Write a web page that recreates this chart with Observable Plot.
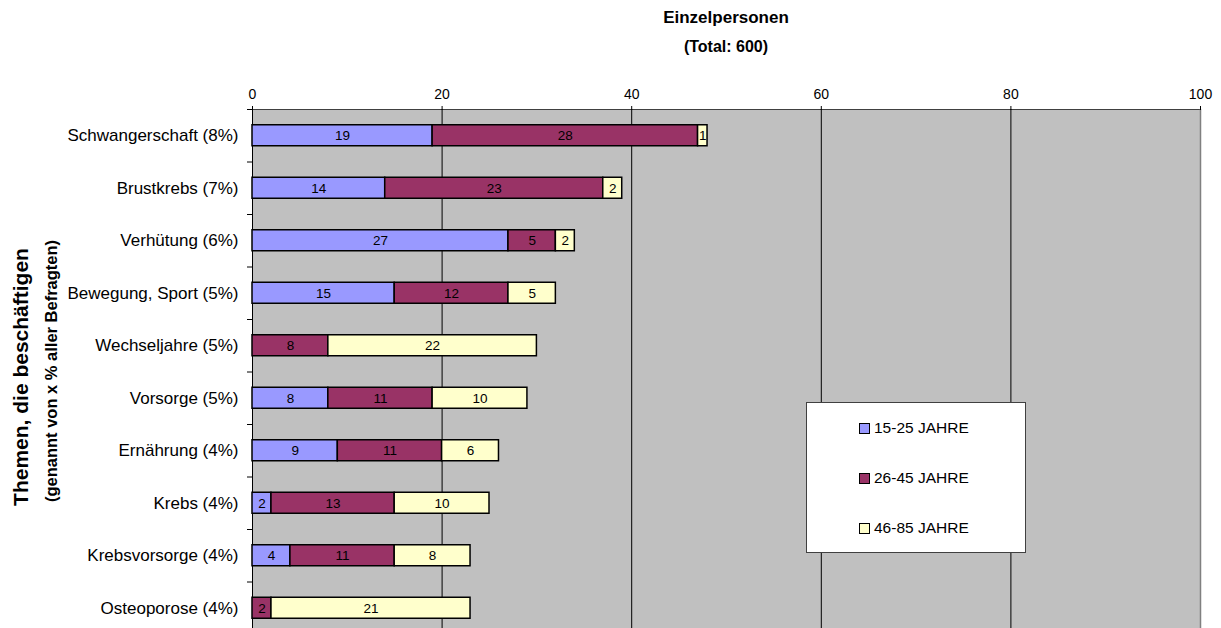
<!DOCTYPE html>
<html>
<head>
<meta charset="utf-8">
<script src="https://cdn.jsdelivr.net/npm/d3@7"></script>
<script src="https://cdn.jsdelivr.net/npm/@observablehq/plot@0.6"></script>
<style>
  html, body { margin: 0; padding: 0; background: #fff; }
  body { font-family: "Liberation Sans", Arial, sans-serif; color: #000; }
  #wrap { position: relative; width: 1221px; height: 628px; overflow: hidden; }
  .t { position: absolute; left: 526px; width: 400px; text-align: center; font-weight: bold; white-space: nowrap; }
  #t1 { top: 8px; height: 20px; line-height: 20px; font-size: 17px; }
  #t2 { top: 37px; height: 20px; line-height: 20px; font-size: 16px; }
  #chart { position: absolute; top: 80px; left: 0; }
  #legend { position: absolute; left: 806px; top: 402px; width: 218px; height: 149px; background: #fff; border: 1px solid #404040; }
  .li { position: absolute; left: 52px; height: 20px; line-height: 20px; font-size: 15.5px; white-space: nowrap; }
  .sw { display: inline-block; width: 9px; height: 9px; border: 1.5px solid #000; vertical-align: -1px; margin-right: 4px; }
</style>
</head>
<body>
<div id="wrap">
  <div class="t" id="t1"></div>
  <div class="t" id="t2"></div>
  <div id="chart"></div>
  <div id="legend"></div>
</div>
<script>
const titleText = "Einzelpersonen";
const subtitleText = "(Total: 600)";
const yTitle1 = "Themen, die beschäftigen";
const yTitle2 = "(genannt von x % aller Befragten)";

const categories = [
  "Schwangerschaft (8%)",
  "Brustkrebs (7%)",
  "Verhütung (6%)",
  "Bewegung, Sport (5%)",
  "Wechseljahre (5%)",
  "Vorsorge (5%)",
  "Ernährung (4%)",
  "Krebs (4%)",
  "Krebsvorsorge (4%)",
  "Osteoporose (4%)"
];
const groups = ["15-25 JAHRE", "26-45 JAHRE", "46-85 JAHRE"];
const groupColors = ["#9999FF", "#993366", "#FFFFCC"];
const v1525 = [19, 14, 27, 15, 0, 8, 9, 2, 4, 0];
const v2645 = [28, 23, 5, 12, 8, 11, 11, 13, 11, 2];
const v4685 = [1, 2, 2, 5, 22, 10, 6, 10, 8, 21];
const xTicks = [0, 20, 40, 60, 80, 100];

const seriesValues = [v1525, v2645, v4685];
const rows = [];
groups.forEach((g, gi) => {
  categories.forEach((c, ci) => {
    const v = seriesValues[gi][ci];
    if (v > 0) rows.push({cat: c, group: g, value: v});
  });
});

document.getElementById("t1").textContent = titleText;
document.getElementById("t2").textContent = subtitleText;

const W = 1221, H = 554, MT = 29, ML = 252, MR = 21;
const step = (H - MT) / categories.length;

const chart = Plot.plot({
  width: W,
  height: H,
  marginTop: MT,
  marginBottom: 0,
  marginLeft: ML,
  marginRight: MR,
  style: {background: "transparent", fontFamily: "'Liberation Sans', Arial, sans-serif", color: "#000", overflow: "visible"},
  x: {domain: [0, 100], axis: null},
  y: {domain: categories, paddingInner: 0.6, paddingOuter: 0.3, round: false, axis: null},
  color: {domain: groups, range: groupColors},
  marks: [
    Plot.frame({fill: "#C0C0C0", stroke: "#404040"}),
    Plot.ruleX(xTicks.slice(0, -1), {stroke: "#000", strokeWidth: 1}),
    Plot.ruleX(xTicks.slice(-1), {stroke: "#808080", strokeWidth: 1.5}),
    Plot.barX(rows, {x: "value", y: "cat", fill: "group", stroke: "#000", strokeWidth: 1.5}),
    Plot.text(rows, Plot.stackX({x: "value", y: "cat", z: "group", text: d => String(d.value), fontSize: 13.5, fill: "#000"})),
    Plot.axisX({anchor: "top", ticks: xTicks, tickSize: 4, tickPadding: 7, fontSize: 14, label: null}),
    Plot.axisY({anchor: "left", tickSize: 0, tickPadding: 14, fontSize: 17, label: null}),
    Plot.ruleY(categories, {y: d => d, dy: -step / 2, insetLeft: -5, insetRight: W - ML - MR, stroke: "#000", strokeWidth: 1}),
    Plot.text([yTitle1], {frameAnchor: "left", textAnchor: "middle", rotate: -90, dx: -231, dy: 5, fontSize: 21, fontWeight: "bold", fill: "#000"}),
    Plot.text([yTitle2], {frameAnchor: "left", textAnchor: "middle", rotate: -90, dx: -201, dy: -1, fontSize: 16.5, fontWeight: "bold", fill: "#000"})
  ]
});
document.getElementById("chart").appendChild(chart);

const legend = document.getElementById("legend");
const legendTops = [418, 468, 518];
groups.forEach((g, i) => {
  const d = document.createElement("div");
  d.className = "li";
  d.style.top = (legendTops[i] - 403) + "px";
  const s = document.createElement("span");
  s.className = "sw";
  s.style.background = groupColors[i];
  d.appendChild(s);
  d.appendChild(document.createTextNode(g));
  legend.appendChild(d);
});
</script>
</body>
</html>
